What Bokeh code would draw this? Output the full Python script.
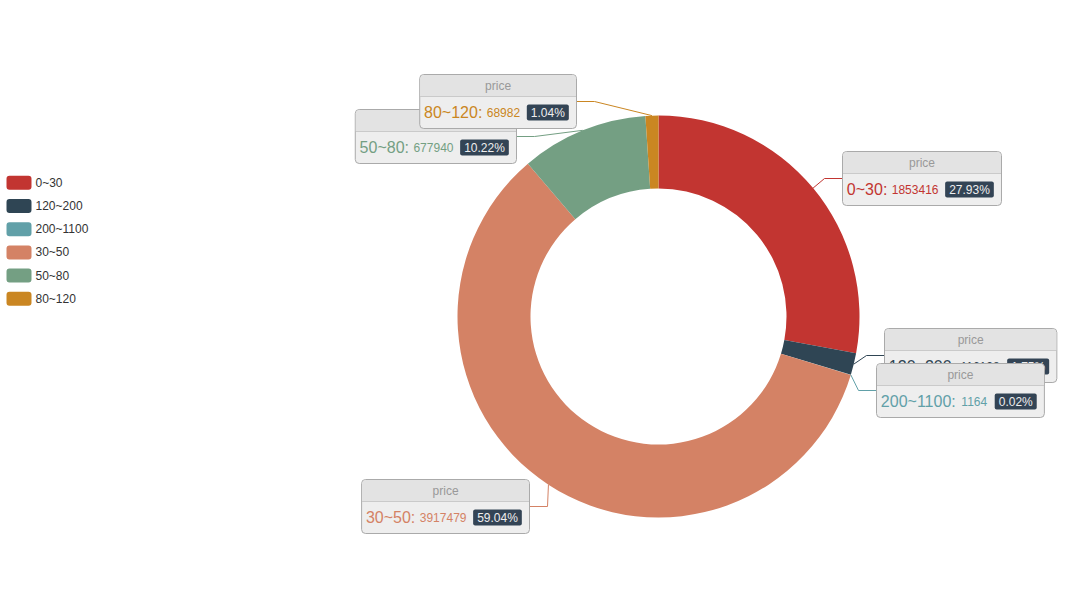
import math
from bokeh.plotting import figure
from bokeh.models import Range1d, ColumnDataSource
from bokeh.core.properties import value
from bokeh.embed import file_html
from bokeh.resources import INLINE

# ---------------- data ----------------
series_name = "price"
categories = ["0~30", "120~200", "200~1100", "30~50", "50~80", "80~120"]
values = [1853416, 116128, 1164, 3917479, 677940, 68982]
colors = ["#c23531", "#2f4554", "#61a0a8", "#d48265", "#749f83", "#ca8622"]

# ---------------- layout (screen px) ----------------
W, H = 1064, 584
CX, CY = 658, 316
R_IN, R_OUT = 128, 201
# elbow points of the label lines (screen px), one per slice
elbows = [(824, 178), (866, 355), (858, 390), (547, 506), (534, 136), (594, 101)]
LEN2 = 18
FONT = "Liberation Sans"


def sy(y):
    return 600 - y


ARIAL = {d: 0.556 for d in "0123456789"}
ARIAL.update({"~": 0.584, ":": 0.278, " ": 0.278, ".": 0.278, "%": 0.889})


def tw(s, size):
    return sum(ARIAL.get(ch, 0.556) for ch in s) * size


p = figure(width=W, height=H, x_range=Range1d(0, W), y_range=Range1d(600 - H, 600),
           output_backend="svg", toolbar_location=None, min_border=0,
           x_axis_location=None, y_axis_location=None, outline_line_color=None)
p.grid.visible = False
p.background_fill_color = "white"

total = float(sum(values))
fracs = [v / total for v in values]
cum = [0.0]
for f in fracs:
    cum.append(cum[-1] + f)
starts = [math.pi / 2 - 2 * math.pi * c for c in cum[:-1]]
ends = [math.pi / 2 - 2 * math.pi * c for c in cum[1:]]

p.annular_wedge(x=CX, y=sy(CY), inner_radius=R_IN, outer_radius=R_OUT,
                start_angle=starts, end_angle=ends, direction="clock",
                fill_color=colors, line_color=None)

# ---------------- labels ----------------
sp = tw(" ", 12)
line_xs, line_ys = [], []
boxes = dict(l=[], r=[], t=[], b=[])
heads = dict(l=[], r=[], t=[], b=[])
hr = dict(x0=[], x1=[], y=[])
badge = dict(l=[], r=[], t=[], b=[])
t_head = dict(x=[], y=[], text=[])
t_b = dict(x=[], y=[], text=[], color=[])
t_c = dict(x=[], y=[], text=[], color=[])
t_p = dict(x=[], y=[], text=[])

for i, (name, v, col) in enumerate(zip(categories, values, colors)):
    mid = (cum[i] + cum[i + 1]) / 2 * 2 * math.pi
    x1 = CX + R_OUT * math.sin(mid)
    y1 = CY - R_OUT * math.cos(mid)
    ex_, ey_ = elbows[i]
    side = 1 if ex_ > CX else -1
    endx = ex_ + side * LEN2
    line_xs.append([x1, ex_, endx])
    line_ys.append([sy(y1), sy(ey_), sy(ey_)])

    pct = "%.2f%%" % (fracs[i] * 100)
    btxt = name + ": "
    bw = tw(btxt, 16)
    cw = tw(str(v), 12)
    pw = tw(pct, 12) + 8
    width = 1 + sp + bw + cw + 2 * sp + pw + 2 * sp + 1
    L = endx if side > 0 else endx - width
    top = ey_ - 27
    boxes["l"].append(L); boxes["r"].append(L + width)
    boxes["t"].append(sy(top)); boxes["b"].append(sy(top + 54))
    heads["l"].append(L + 0.5); heads["r"].append(L + width - 0.5)
    heads["t"].append(sy(top + 0.5)); heads["b"].append(sy(top + 22))
    hr["x0"].append(L + 0.5); hr["x1"].append(L + width - 0.5); hr["y"].append(sy(top + 22))
    t_head["x"].append(L + width / 2); t_head["y"].append(sy(top + 11.5)); t_head["text"].append(series_name)
    row = top + 38
    bx = L + 1 + sp
    t_b["x"].append(bx); t_b["y"].append(sy(row)); t_b["text"].append(name + ":"); t_b["color"].append(col)
    cx_ = bx + bw
    t_c["x"].append(cx_); t_c["y"].append(sy(row)); t_c["text"].append(str(v)); t_c["color"].append(col)
    px = cx_ + cw + 2 * sp
    badge["l"].append(px); badge["r"].append(px + pw)
    badge["t"].append(sy(row - 8)); badge["b"].append(sy(row + 8))
    t_p["x"].append(px + pw / 2); t_p["y"].append(sy(row)); t_p["text"].append(pct)

p.multi_line(xs=line_xs, ys=line_ys, line_color=colors, line_width=1)

# draw each label box in order so later ones overlap earlier ones
for i in range(len(categories)):
    p.quad(left=boxes["l"][i], right=boxes["r"][i], top=boxes["t"][i], bottom=boxes["b"][i],
           fill_color="#eeeeee", line_color="#aaaaaa", line_width=1, border_radius=4)
    p.quad(left=heads["l"][i], right=heads["r"][i], top=heads["t"][i], bottom=heads["b"][i],
           fill_color="#e3e3e3", line_color=None, border_radius=(4, 4, 0, 0))
    p.segment(x0=hr["x0"][i], x1=hr["x1"][i], y0=hr["y"][i], y1=hr["y"][i],
              line_color="#aaaaaa", line_width=0.5)
    p.text(x=t_head["x"][i], y=t_head["y"][i], text=[t_head["text"][i]],
           text_font=value(FONT), text_font_size="12px", text_color="#999999",
           text_align="center", text_baseline="middle")
    p.text(x=t_b["x"][i], y=t_b["y"][i], text=[t_b["text"][i]],
           text_font=value(FONT), text_font_size="16px", text_color=t_b["color"][i],
           text_align="left", text_baseline="middle")
    p.text(x=t_c["x"][i], y=t_c["y"][i], text=[t_c["text"][i]],
           text_font=value(FONT), text_font_size="12px", text_color=t_c["color"][i],
           text_align="left", text_baseline="middle")
    p.quad(left=badge["l"][i], right=badge["r"][i], top=badge["t"][i], bottom=badge["b"][i],
           fill_color="#334455", line_color=None, border_radius=2)
    p.text(x=t_p["x"][i], y=t_p["y"][i], text=[t_p["text"][i]],
           text_font=value(FONT), text_font_size="12px", text_color="#eeeeee",
           text_align="center", text_baseline="middle")

# ---------------- legend ----------------
LEG_X0, LEG_Y0, LEG_STEP = 6, 182.3, 23.2
leg_y = [sy(LEG_Y0 + i * LEG_STEP) for i in range(len(categories))]
leg_src = ColumnDataSource(dict(
    l=[LEG_X0] * len(categories), r=[LEG_X0 + 25] * len(categories),
    t=[y + 7 for y in leg_y], b=[y - 7 for y in leg_y],
    y=leg_y, tx=[LEG_X0 + 29] * len(categories), name=categories, color=colors))
p.quad(left="l", right="r", top="t", bottom="b", fill_color="color", line_color=None,
       border_radius=3, source=leg_src)
p.text(x="tx", y="y", text="name", source=leg_src, text_font=value(FONT),
       text_font_size="12px", text_color="#333333", text_align="left", text_baseline="middle")

open("out.html", "w").write(file_html(p, INLINE))
